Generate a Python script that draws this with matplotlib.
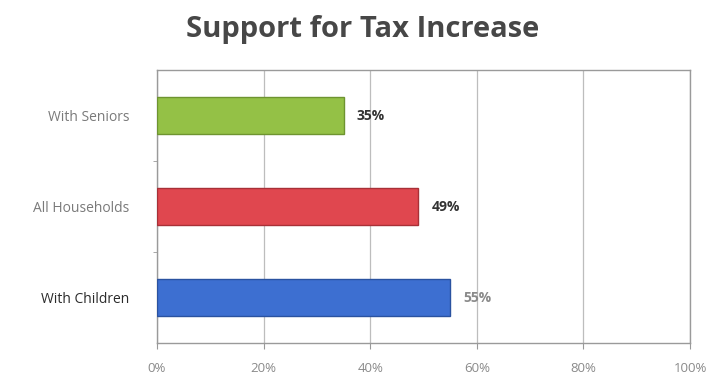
import matplotlib.pyplot as plt
import numpy as np

# survey results, bottom to top
groups = ["With Children", "All Households", "With Seniors"]
support = [55, 49, 35]
bar_colors = ["#3d6fd1", "#e0474f", "#94c146"]
edge_colors = ["#2a52a0", "#a83037", "#6e9430"]
label_colors = ["#2b2b2b", "#7a7a7a", "#7a7a7a"]
value_colors = ["#8a8a8a", "#333333", "#333333"]
x_ticks = [0, 20, 40, 60, 80, 100]

plt.rcParams["font.family"] = ["Open Sans", "DejaVu Sans"]

fig = plt.figure(figsize=(7.14, 3.81), dpi=100)
ax = fig.add_axes([157 / 714, 1 - 343 / 381, 533 / 714, 273 / 381])

y = np.arange(len(groups))
ax.barh(y, support, height=0.4, color=bar_colors, edgecolor=edge_colors,
        linewidth=1.0, zorder=3)

for yi, val, col in zip(y, support, value_colors):
    ax.text(val + 2.5, yi, f"{val}%", va="center", ha="left", fontsize=10,
            fontweight="bold", color=col)

ax.set_xlim(0, 100)
ax.set_ylim(-0.5, 2.5)
ax.set_xticks(x_ticks)
ax.set_xticklabels([f"{t}%" for t in x_ticks], fontsize=9.5, color="#8a8a8a")
ax.set_yticks(y)
ax.set_yticklabels(groups, fontsize=10)
for lbl, col in zip(ax.get_yticklabels(), label_colors):
    lbl.set_color(col)
ax.set_yticks([0.5, 1.5], minor=True)
ax.tick_params(axis="y", which="major", length=0, pad=20)
ax.tick_params(axis="y", which="minor", length=3, color="#999999")
ax.tick_params(axis="x", length=4, color="#999999", pad=10)

ax.grid(axis="x", color="#bdbdbd", linewidth=0.9, zorder=0)
for side in ax.spines.values():
    side.set_color("#9a9a9a")
    side.set_linewidth(1.0)

fig.text(363 / 714, 1 - 30 / 381, "Support for Tax Increase", ha="center",
         va="center", fontsize=21, fontweight="bold", color="#474747")

fig.savefig("out.png", dpi=100, facecolor="white")
